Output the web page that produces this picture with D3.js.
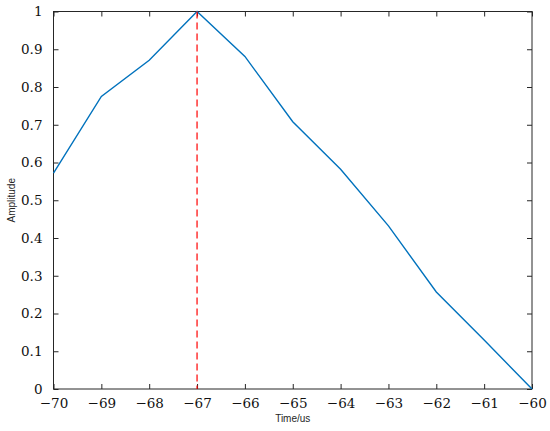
<!DOCTYPE html>
<html><head><meta charset="utf-8">
<script src="https://cdn.jsdelivr.net/npm/d3@7"></script>
<style>body{margin:0;background:#fff}svg{display:block}</style>
</head><body>
<script>
const timeUs = [-70,-69,-68,-67,-66,-65,-64,-63,-62,-61,-60];
const amplitude = [0.572,0.775,0.871,1.0,0.881,0.708,0.582,0.432,0.257,0.13,0.0];
const peakTime = -67;
const xTicks = [-70,-69,-68,-67,-66,-65,-64,-63,-62,-61,-60];
const yTicks = [0,0.1,0.2,0.3,0.4,0.5,0.6,0.7,0.8,0.9,1];

const W=550,H=431;
const m={left:53.5,right:18,top:11.5,bottom:42};
const svg=d3.select("body").append("svg").attr("width",W).attr("height",H);
const x=d3.scaleLinear().domain([-70,-60]).range([m.left,W-m.right]);
const y=d3.scaleLinear().domain([0,1]).range([H-m.bottom,m.top]);
const axisColor="#262626";
const fmt=d=>d<0?"\u2212"+Math.abs(d):String(d);

function styleAxis(g,showText){
  g.attr("font-family","DejaVu Serif").attr("font-size",13.5);
  g.select(".domain").remove();
  g.selectAll(".tick line").attr("stroke",axisColor);
  g.selectAll(".tick text").attr("fill","#111");
  if(!showText) g.selectAll(".tick text").remove();
}
svg.append("g").attr("transform",`translate(0,${y(0)})`)
  .call(d3.axisBottom(x).tickValues(xTicks).tickFormat(fmt).tickSizeInner(-5).tickSizeOuter(0).tickPadding(9))
  .call(g=>styleAxis(g,true));
svg.append("g").attr("transform",`translate(0,${y(1)})`)
  .call(d3.axisTop(x).tickValues(xTicks).tickSizeInner(-5).tickSizeOuter(0))
  .call(g=>styleAxis(g,false));
svg.append("g").attr("transform",`translate(${x(-70)},0)`)
  .call(d3.axisLeft(y).tickValues(yTicks).tickFormat(d3.format("")).tickSizeInner(-5).tickSizeOuter(0).tickPadding(11))
  .call(g=>styleAxis(g,true));
svg.append("g").attr("transform",`translate(${x(-60)},0)`)
  .call(d3.axisRight(y).tickValues(yTicks).tickSizeInner(-5).tickSizeOuter(0))
  .call(g=>styleAxis(g,false));

svg.append("rect").attr("x",x(-70)).attr("y",y(1)).attr("width",x(-60)-x(-70)).attr("height",y(0)-y(1))
  .attr("fill","none").attr("stroke",axisColor).attr("stroke-width",1);

svg.append("path").datum(timeUs.map((t,i)=>[t,amplitude[i]]))
  .attr("d",d3.line().x(d=>x(d[0])).y(d=>y(d[1])))
  .attr("fill","none").attr("stroke","#0072BD").attr("stroke-width",1.4);

svg.append("line").attr("x1",x(peakTime)).attr("x2",x(peakTime)).attr("y1",y(1)).attr("y2",y(0))
  .attr("stroke","#FF0000").attr("stroke-width",1.2).attr("stroke-dasharray","7,4");

svg.append("text").attr("x",(x(-70)+x(-60))/2).attr("y",422).attr("text-anchor","middle")
  .attr("font-family","Liberation Sans, Arial, sans-serif").attr("font-size",10).attr("fill","#262626").text("Time/us");
svg.append("text").attr("transform",`translate(15,${(y(0)+y(1))/2}) rotate(-90)`).attr("text-anchor","middle")
  .attr("font-family","Liberation Sans, Arial, sans-serif").attr("font-size",10).attr("fill","#262626").text("Amplitude");
</script>
</body></html>
